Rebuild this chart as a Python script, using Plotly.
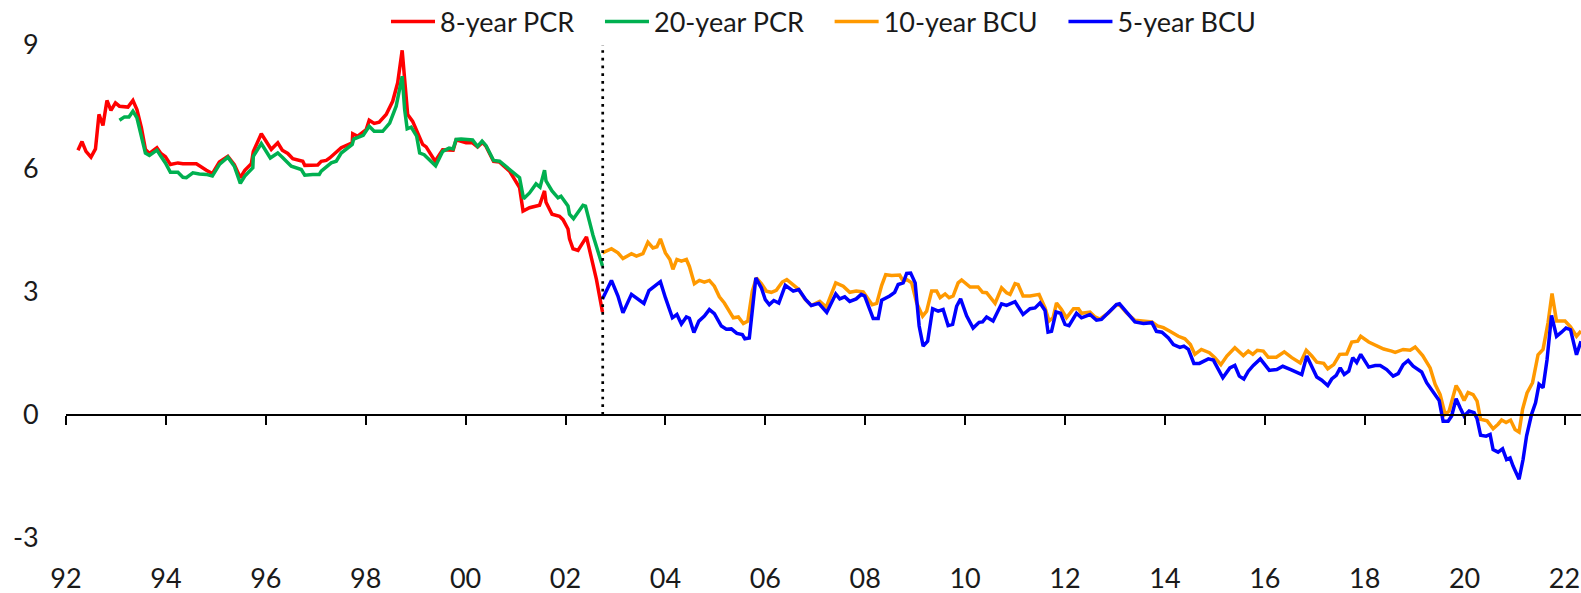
import plotly.graph_objects as go

# ---------------- data (decimal years, percent) ----------------
pcr8_t = [1992.24, 1992.32, 1992.40, 1992.50, 1992.59, 1992.66, 1992.74, 1992.82, 1992.90, 1992.99,
          1993.07, 1993.24, 1993.34, 1993.42, 1993.51, 1993.59, 1993.67, 1993.82, 1993.90, 1993.99,
          1994.09, 1994.24, 1994.34, 1994.61, 1994.81, 1994.93, 1995.07, 1995.24, 1995.37, 1995.49,
          1995.58, 1995.71, 1995.75, 1995.91, 1996.11, 1996.24, 1996.33, 1996.44, 1996.54, 1996.74,
          1996.78, 1997.04, 1997.11, 1997.21, 1997.28, 1997.51, 1997.73, 1997.74, 1997.84, 1998.01,
          1998.07, 1998.17, 1998.27, 1998.41, 1998.54, 1998.64, 1998.73, 1998.78, 1998.84, 1998.94,
          1999.08, 1999.14, 1999.21, 1999.31, 1999.39, 1999.54, 1999.67, 1999.75, 1999.81, 2000.01,
          2000.14, 2000.24, 2000.34, 2000.41, 2000.56, 2000.68, 2000.88, 2001.01, 2001.08, 2001.15,
          2001.28, 2001.48, 2001.58, 2001.61, 2001.73, 2001.88, 2001.95, 2002.05, 2002.08, 2002.15,
          2002.25, 2002.42, 2002.48, 2002.62, 2002.74]
pcr8_v = [6.44, 6.65, 6.41, 6.27, 6.47, 7.31, 7.04, 7.65, 7.41, 7.59,
          7.51, 7.49, 7.65, 7.43, 6.98, 6.46, 6.36, 6.50, 6.36, 6.28,
          6.09, 6.13, 6.11, 6.11, 5.95, 5.87, 6.15, 6.29, 6.09, 5.77,
          5.95, 6.11, 6.41, 6.84, 6.46, 6.62, 6.44, 6.36, 6.23, 6.17,
          6.07, 6.08, 6.17, 6.19, 6.25, 6.50, 6.62, 6.84, 6.78, 6.94,
          7.17, 7.09, 7.12, 7.31, 7.63, 8.08, 8.87, 8.08, 7.31, 7.14,
          6.78, 6.58, 6.52, 6.34, 6.17, 6.45, 6.44, 6.44, 6.69, 6.62,
          6.62, 6.52, 6.63, 6.53, 6.17, 6.15, 5.93, 5.69, 5.53, 4.96,
          5.04, 5.10, 5.45, 5.17, 4.88, 4.83, 4.75, 4.52, 4.28, 4.04,
          4.00, 4.33, 4.04, 3.29, 2.50]

pcr20_t = [1993.07, 1993.17, 1993.26, 1993.34, 1993.42, 1993.51, 1993.59, 1993.67, 1993.82, 1993.90,
           1993.99, 1994.09, 1994.24, 1994.34, 1994.41, 1994.54, 1994.67, 1994.81, 1994.93, 1995.07,
           1995.24, 1995.37, 1995.49, 1995.58, 1995.74, 1995.75, 1995.91, 1996.09, 1996.24, 1996.33,
           1996.51, 1996.71, 1996.78, 1996.94, 1997.07, 1997.11, 1997.31, 1997.41, 1997.51, 1997.73,
           1997.76, 1997.95, 1998.07, 1998.17, 1998.34, 1998.48, 1998.61, 1998.73, 1998.78, 1998.83,
           1998.91, 1999.02, 1999.08, 1999.17, 1999.27, 1999.40, 1999.54, 1999.67, 1999.75, 1999.81,
           1999.91, 2000.14, 2000.24, 2000.33, 2000.41, 2000.56, 2000.68, 2000.88, 2001.08, 2001.16,
           2001.28, 2001.41, 2001.49, 2001.58, 2001.61, 2001.73, 2001.85, 2001.91, 2002.05, 2002.08,
           2002.16, 2002.35, 2002.40, 2002.55, 2002.74]
pcr20_v = [7.17, 7.25, 7.25, 7.39, 7.23, 6.78, 6.37, 6.31, 6.44, 6.29,
           6.13, 5.90, 5.90, 5.78, 5.77, 5.89, 5.86, 5.85, 5.81, 6.09,
           6.27, 6.05, 5.63, 5.81, 6.01, 6.29, 6.60, 6.25, 6.37, 6.27,
           6.05, 5.97, 5.83, 5.85, 5.85, 5.93, 6.13, 6.17, 6.37, 6.58,
           6.71, 6.80, 7.02, 6.90, 6.90, 7.10, 7.51, 8.24, 7.43, 6.96,
           7.00, 6.78, 6.37, 6.33, 6.21, 6.06, 6.41, 6.49, 6.47, 6.70,
           6.71, 6.69, 6.53, 6.66, 6.55, 6.19, 6.17, 5.98, 5.77, 5.26,
           5.40, 5.62, 5.54, 5.95, 5.69, 5.45, 5.28, 5.32, 5.08, 4.88,
           4.77, 5.10, 5.08, 4.37, 3.62]

bcu10_t = [2002.74, 2002.92, 2003.05, 2003.15, 2003.32, 2003.42, 2003.55, 2003.65, 2003.75, 2003.83,
           2003.90, 2004.00, 2004.09, 2004.15, 2004.23, 2004.32, 2004.42, 2004.48, 2004.58, 2004.68,
           2004.78, 2004.88, 2004.98, 2005.08, 2005.18, 2005.28, 2005.36, 2005.46, 2005.56, 2005.65,
           2005.74, 2005.82, 2005.92, 2006.02, 2006.12, 2006.22, 2006.34, 2006.43, 2006.55, 2006.67,
           2006.79, 2006.92, 2007.09, 2007.22, 2007.41, 2007.56, 2007.69, 2007.82, 2007.96, 2008.14,
           2008.23, 2008.33, 2008.41, 2008.53, 2008.69, 2008.76, 2008.83, 2008.93, 2009.03, 2009.15,
           2009.23, 2009.33, 2009.43, 2009.50, 2009.60, 2009.68, 2009.76, 2009.86, 2009.93, 2010.10,
           2010.26, 2010.35, 2010.43, 2010.60, 2010.73, 2010.83, 2010.90, 2011.00, 2011.06, 2011.16,
           2011.30, 2011.48, 2011.60, 2011.68, 2011.76, 2011.83, 2011.93, 2012.03, 2012.17, 2012.27,
           2012.33, 2012.50, 2012.60, 2012.70, 2012.87, 2013.03, 2013.10, 2013.23, 2013.40, 2013.57,
           2013.74, 2013.85, 2013.97, 2014.10, 2014.27, 2014.40, 2014.51, 2014.60, 2014.73, 2014.89,
           2015.00, 2015.12, 2015.24, 2015.40, 2015.57, 2015.67, 2015.76, 2015.85, 2015.97, 2016.07,
           2016.23, 2016.39, 2016.54, 2016.71, 2016.83, 2016.94, 2017.04, 2017.18, 2017.26, 2017.38,
           2017.50, 2017.64, 2017.74, 2017.86, 2017.92, 2018.08, 2018.21, 2018.38, 2018.54, 2018.61,
           2018.77, 2018.91, 2019.01, 2019.16, 2019.31, 2019.41, 2019.51, 2019.61, 2019.69, 2019.83,
           2019.91, 2019.99, 2020.07, 2020.17, 2020.25, 2020.32, 2020.45, 2020.57, 2020.67, 2020.74,
           2020.83, 2020.92, 2021.01, 2021.09, 2021.16, 2021.25, 2021.36, 2021.47, 2021.57, 2021.67,
           2021.75, 2021.84, 2022.01, 2022.12, 2022.24, 2022.33]
bcu10_v = [3.94, 4.04, 3.94, 3.80, 3.92, 3.86, 3.92, 4.20, 4.06, 4.09,
           4.28, 3.94, 3.78, 3.54, 3.78, 3.74, 3.78, 3.61, 3.19, 3.27,
           3.23, 3.27, 3.13, 2.87, 2.72, 2.52, 2.36, 2.38, 2.22, 2.28,
           3.01, 3.33, 3.19, 3.01, 2.98, 3.03, 3.23, 3.29, 3.17, 3.05,
           2.82, 2.66, 2.76, 2.62, 3.21, 3.13, 2.98, 3.01, 2.99, 2.68,
           2.71, 3.15, 3.41, 3.39, 3.40, 3.25, 3.29, 3.21, 2.72, 2.40,
           2.52, 3.01, 3.01, 2.85, 2.94, 2.85, 2.89, 3.21, 3.28, 3.11,
           3.11, 2.98, 2.97, 2.71, 3.09, 2.97, 2.93, 3.19, 3.17, 2.89,
           2.89, 2.93, 2.60, 2.28, 2.36, 2.72, 2.56, 2.36, 2.58, 2.58,
           2.47, 2.50, 2.38, 2.33, 2.48, 2.68, 2.66, 2.48, 2.30, 2.28,
           2.26, 2.16, 2.12, 2.03, 1.91, 1.85, 1.71, 1.47, 1.59, 1.51,
           1.39, 1.22, 1.43, 1.63, 1.44, 1.55, 1.47, 1.57, 1.55, 1.40,
           1.40, 1.53, 1.39, 1.26, 1.57, 1.43, 1.28, 1.25, 1.12, 1.22,
           1.47, 1.48, 1.77, 1.79, 1.91, 1.77, 1.69, 1.60, 1.55, 1.52,
           1.59, 1.57, 1.65, 1.44, 1.14, 0.74, 0.49, 0.01, 0.09, 0.71,
           0.55, 0.35, 0.54, 0.49, 0.33, -0.11, -0.15, -0.34, -0.23, -0.13,
           -0.19, -0.13, -0.36, -0.42, 0.13, 0.53, 0.78, 1.46, 1.59, 2.24,
           2.95, 2.28, 2.28, 2.14, 1.91, 2.04]

bcu5_t = [2002.74, 2002.92, 2003.05, 2003.15, 2003.32, 2003.42, 2003.57, 2003.67, 2003.75, 2003.90,
          2004.00, 2004.14, 2004.23, 2004.32, 2004.42, 2004.48, 2004.57, 2004.67, 2004.78, 2004.88,
          2004.98, 2005.12, 2005.22, 2005.32, 2005.43, 2005.54, 2005.59, 2005.68, 2005.81, 2005.92,
          2006.00, 2006.08, 2006.17, 2006.27, 2006.40, 2006.52, 2006.56, 2006.67, 2006.81, 2006.92,
          2007.07, 2007.23, 2007.41, 2007.49, 2007.59, 2007.69, 2007.82, 2007.92, 2007.99, 2008.16,
          2008.26, 2008.33, 2008.49, 2008.59, 2008.66, 2008.76, 2008.83, 2008.91, 2009.00, 2009.08,
          2009.16, 2009.25, 2009.35, 2009.46, 2009.56, 2009.66, 2009.75, 2009.83, 2009.91, 2010.03,
          2010.16, 2010.28, 2010.35, 2010.43, 2010.56, 2010.73, 2010.83, 2011.00, 2011.16, 2011.30,
          2011.40, 2011.50, 2011.60, 2011.66, 2011.73, 2011.82, 2011.91, 2012.00, 2012.08, 2012.23,
          2012.33, 2012.50, 2012.63, 2012.73, 2012.87, 2013.03, 2013.09, 2013.25, 2013.40, 2013.57,
          2013.74, 2013.83, 2013.94, 2014.07, 2014.17, 2014.30, 2014.38, 2014.47, 2014.58, 2014.69,
          2014.87, 2014.97, 2015.07, 2015.16, 2015.30, 2015.40, 2015.49, 2015.58, 2015.67, 2015.77,
          2015.91, 2016.09, 2016.24, 2016.36, 2016.52, 2016.64, 2016.74, 2016.84, 2016.94, 2017.04,
          2017.14, 2017.26, 2017.34, 2017.43, 2017.51, 2017.59, 2017.68, 2017.76, 2017.84, 2017.92,
          2018.08, 2018.21, 2018.31, 2018.44, 2018.57, 2018.67, 2018.77, 2018.87, 2018.97, 2019.14,
          2019.24, 2019.37, 2019.49, 2019.57, 2019.67, 2019.74, 2019.83, 2019.91, 2019.99, 2020.09,
          2020.19, 2020.25, 2020.32, 2020.43, 2020.51, 2020.57, 2020.67, 2020.76, 2020.84, 2020.91,
          2020.97, 2021.09, 2021.17, 2021.24, 2021.34, 2021.42, 2021.49, 2021.57, 2021.65, 2021.74,
          2021.84, 2021.94, 2022.03, 2022.12, 2022.24, 2022.33]
bcu5_v = [2.82, 3.27, 2.89, 2.48, 2.93, 2.85, 2.71, 3.02, 3.10, 3.24,
          2.85, 2.36, 2.44, 2.21, 2.38, 2.35, 2.00, 2.28, 2.40, 2.56,
          2.46, 2.16, 2.08, 2.09, 1.98, 1.95, 1.85, 1.87, 3.33, 3.09,
          2.80, 2.68, 2.78, 2.72, 3.15, 3.05, 3.01, 3.05, 2.80, 2.66,
          2.71, 2.49, 2.94, 2.82, 2.87, 2.76, 2.82, 2.93, 2.89, 2.34,
          2.34, 2.79, 2.89, 2.98, 3.17, 3.21, 3.44, 3.45, 3.21, 2.16,
          1.67, 1.79, 2.58, 2.52, 2.56, 2.17, 2.20, 2.64, 2.82, 2.41,
          2.11, 2.25, 2.26, 2.38, 2.28, 2.70, 2.66, 2.75, 2.44, 2.58,
          2.60, 2.72, 2.54, 2.01, 2.03, 2.50, 2.47, 2.20, 2.17, 2.47,
          2.36, 2.44, 2.30, 2.32, 2.48, 2.68, 2.70, 2.46, 2.26, 2.22,
          2.24, 2.03, 2.01, 1.87, 1.71, 1.64, 1.67, 1.59, 1.25, 1.25,
          1.36, 1.33, 1.10, 0.90, 1.14, 1.20, 0.94, 0.87, 1.06, 1.20,
          1.36, 1.08, 1.10, 1.18, 1.10, 1.04, 0.98, 1.43, 1.16, 0.92,
          0.84, 0.71, 0.87, 0.96, 1.14, 0.98, 1.06, 1.39, 1.27, 1.47,
          1.16, 1.20, 1.20, 1.10, 0.94, 1.00, 1.22, 1.32, 1.18, 1.04,
          0.78, 0.57, 0.35, -0.16, -0.16, -0.03, 0.39, 0.17, -0.03, 0.09,
          0.05, -0.10, -0.50, -0.52, -0.48, -0.85, -0.91, -0.83, -1.09, -1.05,
          -1.25, -1.57, -1.09, -0.52, 0.01, 0.29, 0.74, 0.66, 1.34, 2.42,
          1.91, 2.01, 2.11, 2.07, 1.46, 1.79]

series_names = ["8-year PCR", "20-year PCR", "10-year BCU", "5-year BCU"]
series_colors = ["#FF0000", "#00B050", "#FF9900", "#0000FF"]

tick_years = [1992 + 2 * i for i in range(16)]
tick_labels = ["92", "94", "96", "98", "00", "02", "04", "06", "08", "10",
               "12", "14", "16", "18", "20", "22"]
y_ticks = [-3, 0, 3, 6, 9]
y_tick_labels = ["-3", "0", "3", "6", "9"]
regime_break = 2002.745
x_range = [1992, 2022.33]
y_range = [-3, 9]

FONT = "Lato, 'Open Sans', sans-serif"
FS = 27
TXT = "#1a1a1a"
PAD = "\u00a0\u00a0\u00a0"   # extra spacing between legend entries

fig = go.Figure()
n = len(series_names)
for i, (t, v, name, col) in enumerate(zip([pcr8_t, pcr20_t, bcu10_t, bcu5_t],
                                          [pcr8_v, pcr20_v, bcu10_v, bcu5_v],
                                          series_names, series_colors)):
    label = name + (PAD if i < n - 1 else "")
    fig.add_trace(go.Scatter(x=t, y=v, name=label, mode="lines",
                             line=dict(color=col, width=3.5)))

# invisible helper trace so the label axis is drawn
fig.add_trace(go.Scatter(x=[x_range[0]], y=[None], xaxis="x2", showlegend=False,
                         hoverinfo="skip", mode="lines"))

# vertical dotted line at the regime break
fig.add_shape(type="line", xref="x", yref="y", x0=regime_break, x1=regime_break,
              y0=0, y1=y_range[1], line=dict(color="black", width=2.7, dash="2.7px,5px"))

fig.update_layout(
    width=1581, height=593,
    margin=dict(l=66, r=0, t=45, b=55, autoexpand=False),
    paper_bgcolor="white", plot_bgcolor="white",
    font=dict(family=FONT, size=FS, color=TXT),
    showlegend=True,
    legend=dict(orientation="h", x=0.5, xanchor="center", y=1.047, yanchor="middle",
                font=dict(family=FONT, size=FS, color=TXT), bgcolor="rgba(0,0,0,0)",
                itemwidth=44),
    xaxis=dict(range=x_range, anchor="free", position=0.25, tickmode="array",
               tickvals=tick_years, showticklabels=False, ticks="outside", ticklen=9,
               tickwidth=2, tickcolor="black", showline=True, linecolor="black",
               linewidth=2, showgrid=False, zeroline=False, automargin=False),
    xaxis2=dict(range=x_range, overlaying="x", anchor="y", side="bottom",
                tickmode="array", tickvals=tick_years, ticktext=tick_labels,
                ticks="outside", ticklen=17, tickcolor="rgba(0,0,0,0)",
                showline=False, showgrid=False, zeroline=False, automargin=False,
                tickfont=dict(family=FONT, size=FS, color=TXT)),
    yaxis=dict(range=y_range, tickmode="array", tickvals=y_ticks, ticktext=y_tick_labels,
               ticks="outside", ticklen=21, tickcolor="rgba(0,0,0,0)",
               showline=False, showgrid=False, zeroline=False, automargin=False,
               tickfont=dict(family=FONT, size=FS, color=TXT)),
)

fig.write_html("out.html", config={"displayModeBar": False},
               post_script="document.body.style.margin='0';document.body.style.padding='0';"
                           "document.body.style.overflow='hidden';")
